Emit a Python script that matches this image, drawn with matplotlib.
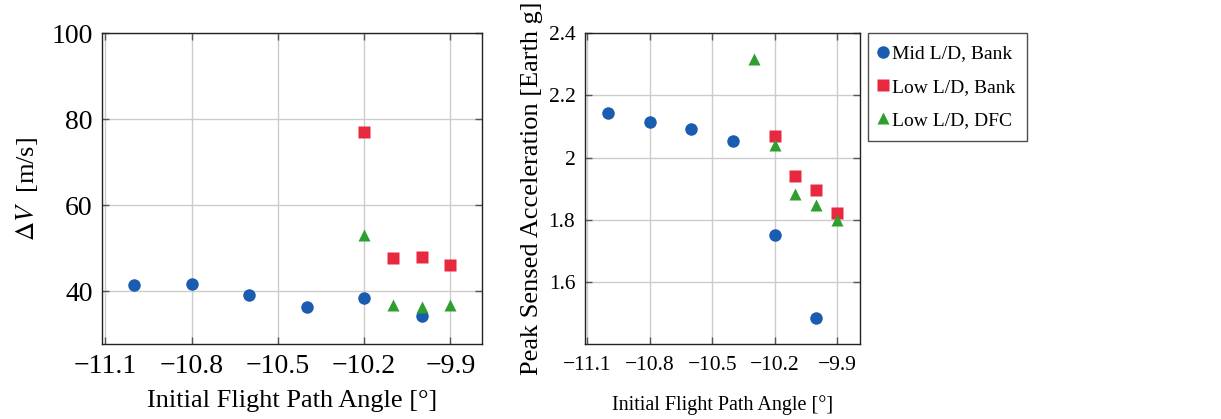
import matplotlib
matplotlib.use("Agg")
import matplotlib.pyplot as plt

plt.rcParams['font.family'] = ['Liberation Serif', 'DejaVu Serif']
plt.rcParams['mathtext.fontset'] = 'stix'
FS = 19
FS_L = 20      # left panel tick labels
FS_R = 15.5    # right panel tick labels (text is condensed in the reference)
FS_RL = 14.5   # right panel x label
FS_LEG = 14    # legend
plt.rcParams['font.size'] = FS

# Data
mid_bank_x = [-11.0, -10.8, -10.6, -10.4, -10.2, -10.0]
mid_bank_dv = [41.5, 41.7, 39.0, 36.3, 38.3, 34.3]
mid_bank_g = [2.143, 2.114, 2.093, 2.052, 1.751, 1.484]

low_bank_x = [-10.2, -10.1, -10.0, -9.9]
low_bank_dv = [77.1, 47.7, 47.9, 46.0]
low_bank_g = [2.069, 1.942, 1.897, 1.821]

low_dfc_x_dv = [-10.2, -10.1, -10.0, -9.9]
low_dfc_dv = [53.0, 36.7, 36.3, 36.7]
low_dfc_x_g = [-10.3, -10.2, -10.1, -10.0, -9.9]
low_dfc_g = [2.318, 2.039, 1.882, 1.846, 1.799]

labels = ['Mid L/D, Bank', 'Low L/D, Bank', 'Low L/D, DFC']
xticks = [-11.1, -10.8, -10.5, -10.2, -9.9]
xticklabels = ['\u221211.1', '\u221210.8', '\u221210.5', '\u221210.2', '\u22129.9']

c_blue = '#1a5cb0'
c_red = '#e8283f'
c_green = '#2e9e2e'

W, H = 1221, 419
fig = plt.figure(figsize=(W / 100, H / 100), dpi=100)
ax1 = fig.add_axes([102.3 / W, 1 - 344 / H, (482 - 102.3) / W, (344 - 33.3) / H])
ax2 = fig.add_axes([585 / W, 1 - 344 / H, (860 - 585) / W, (344 - 33.3) / H])

ms = 9.0
for ax, yb, yr, xg, yg, fs, pad in [(ax1, mid_bank_dv, low_bank_dv, low_dfc_x_dv, low_dfc_dv, FS_L, 7),
                                    (ax2, mid_bank_g, low_bank_g, low_dfc_x_g, low_dfc_g, FS_R, 9)]:
    ax.plot(mid_bank_x, yb, 'o', color=c_blue, ms=ms, mec='none', label=labels[0], zorder=3)
    ax.plot(low_bank_x, yr, 's', color=c_red, ms=ms - 0.5, mec='none', label=labels[1], zorder=3)
    ax.plot(xg, yg, '^', color=c_green, ms=ms, mec='none', label=labels[2], zorder=3)
    ax.set_xlim(-11.111, -9.79)
    ax.set_xticks(xticks)
    ax.set_xticklabels(xticklabels)
    ax.grid(True, color='#cccccc', linewidth=1.0)
    ax.set_axisbelow(True)
    ax.tick_params(direction='in', top=True, right=True, length=5, width=1.0,
                   color='#555555', labelsize=fs, pad=7)
    ax.tick_params(axis='x', pad=pad)
    for s in ax.spines.values():
        s.set_linewidth(1.0)
        s.set_color('#222222')

ax1.set_xlabel('Initial Flight Path Angle [\u00b0]', fontsize=FS, labelpad=8)
ax2.set_xlabel('Initial Flight Path Angle [\u00b0]', fontsize=FS_RL, labelpad=14)

ax1.set_ylim(27.7, 100)
ax1.set_yticks([40, 60, 80, 100])
ax1.set_ylabel(r'$\Delta V$  [m/s]', fontsize=FS, labelpad=8)

ax2.set_ylim(1.4, 2.4)
ax2.set_yticks([1.6, 1.8, 2.0, 2.2, 2.4])
ax2.set_yticklabels(['1.6', '1.8', '2', '2.2', '2.4'])
ax2.set_ylabel('Peak Sensed Acceleration [Earth g]', fontsize=FS, labelpad=4)

leg = ax2.legend(loc='upper left', bbox_to_anchor=(1.03, 1.0), frameon=True, fancybox=False,
                 edgecolor='#222222', fontsize=FS_LEG, handlelength=0.35, handletextpad=0.25,
                 borderpad=0.6, labelspacing=0.8, borderaxespad=0)
leg.get_frame().set_linewidth(1.0)

fig.savefig('out.png', dpi=100)
